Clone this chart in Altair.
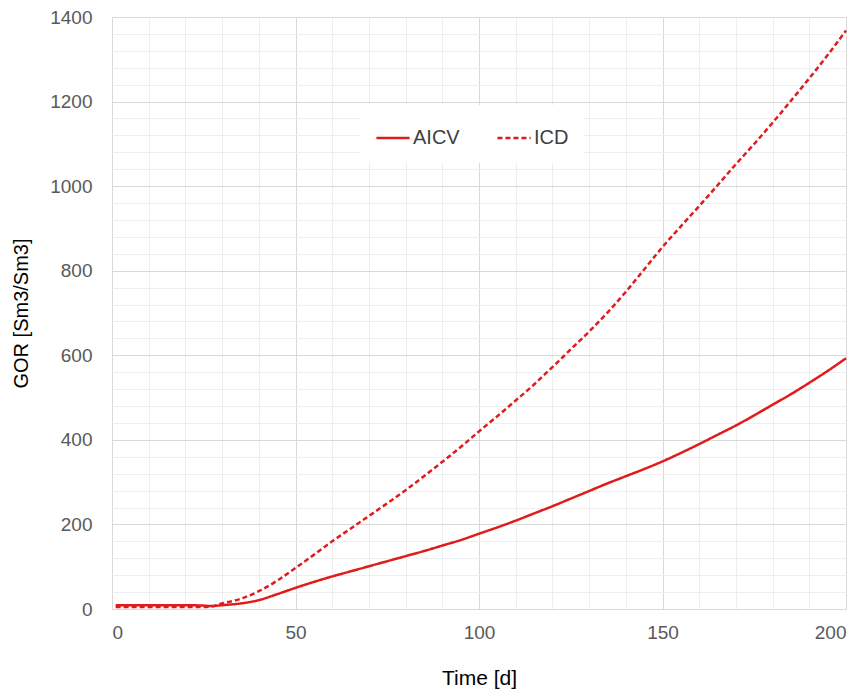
import altair as alt
import pandas as pd

time_icd = [1, 5, 10, 15, 20, 25, 27, 30, 35, 40, 45, 50, 55, 60, 65, 70, 75, 80, 85, 90, 95, 100,
            105, 110, 115, 120, 125, 130, 135, 140, 145, 150, 155, 160, 165, 170, 175, 180, 185, 190, 195, 200]
gor_icd = [5, 5, 5, 5, 5, 5, 6, 13, 24, 42, 67, 97, 128, 160, 190, 220, 250, 281, 314, 348, 383, 420,
           456, 493, 531, 572, 614, 656, 701, 750, 803, 856, 905, 953, 1002, 1052, 1100, 1150, 1202, 1255, 1310, 1368]

time_aicv = [1, 5, 10, 15, 20, 25, 27, 30, 35, 40, 45, 50, 55, 60, 65, 70, 75, 80, 85, 90, 95, 100,
             105, 110, 115, 120, 125, 130, 135, 140, 145, 150, 155, 160, 165, 170, 175, 180, 185, 190, 195, 200]
gor_aicv = [9, 9, 9, 9, 9, 8, 7, 9, 13, 21, 35, 50, 64, 77, 89, 101, 113, 125, 137, 150, 163, 178,
            193, 209, 226, 243, 261, 279, 297, 314, 331, 349, 369, 390, 412, 434, 458, 483, 508, 535, 563, 593]

series_names = ["AICV", "ICD"]

df = pd.concat([
    pd.DataFrame({"Time": time_aicv, "GOR": gor_aicv, "Series": series_names[0]}),
    pd.DataFrame({"Time": time_icd, "GOR": gor_icd, "Series": series_names[1]}),
])

FONT = "Liberation Sans"
RED = "#E01B1B"

x_axis = alt.Axis(
    values=list(range(0, 201, 10)),
    labelExpr="datum.value % 50 === 0 ? datum.label : ''",
    gridColor={"condition": {"test": "datum.value % 50 === 0", "value": "#d9d9d9"}, "value": "#eeeeee"},
    ticks=False, domainColor="#d9d9d9", labelFontSize=19, labelColor="#595959",
    labelFont=FONT, labelPadding=14, title="Time [d]", titleFont=FONT, titleFontSize=21,
    titleFontWeight="normal", titleColor="#000000", titlePadding=25,
)
y_axis = alt.Axis(
    values=list(range(0, 1401, 40)),
    labelExpr="datum.value % 200 === 0 ? datum.label : ''",
    gridColor={"condition": {"test": "datum.value % 200 === 0", "value": "#d9d9d9"}, "value": "#eeeeee"},
    ticks=False, domain=False, labelFontSize=19, labelColor="#595959", labelFont=FONT,
    labelPadding=20, title="GOR [Sm3/Sm3]", titleFont=FONT, titleFontSize=20,
    titleFontWeight="normal", titleColor="#000000", titlePadding=18, format="d",
)

chart = alt.Chart(df).mark_line(strokeWidth=2.5, color=RED, interpolate="monotone").encode(
    x=alt.X("Time:Q", scale=alt.Scale(domain=[0, 200], nice=False), axis=x_axis),
    y=alt.Y("GOR:Q", scale=alt.Scale(domain=[0, 1400], nice=False), axis=y_axis),
    strokeDash=alt.StrokeDash(
        "Series:N",
        scale=alt.Scale(domain=series_names, range=[[1, 0], [5, 3]]),
        legend=alt.Legend(
            title=None, orient="none", legendX=248, legendY=88, direction="horizontal",
            fillColor="white", padding=15, symbolType="stroke", symbolSize=1100,
            symbolStrokeWidth=2.5, symbolStrokeColor=RED, labelFontSize=20, labelFont=FONT,
            labelColor="#404040", columnPadding=32, labelOffset=2,
        ),
    ),
).properties(
    width=734, height=592,
    padding={"left": 112, "top": 17, "right": 18, "bottom": 82},
    autosize=alt.AutoSizeParams(type="none"),
).configure_view(stroke="#d9d9d9")

chart.save("out.html", embed_options={"renderer": "svg", "actions": False})
